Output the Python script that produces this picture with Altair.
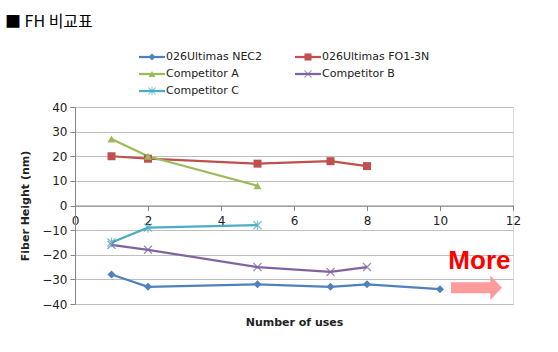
import altair as alt
import pandas as pd

# ---------------- data ----------------
series_names = ["026Ultimas NEC2", "026Ultimas FO1-3N", "Competitor A", "Competitor B", "Competitor C"]
series_colors = ["#4F81BD", "#C0504D", "#9BBB59", "#8064A2", "#4BACC6"]

nec2_x = [1, 2, 5, 7, 8, 10]
nec2_y = [-28, -33, -32, -33, -32, -34]
fo13n_x = [1, 2, 5, 7, 8]
fo13n_y = [20, 19, 17, 18, 16]
compA_x = [1, 2, 5]
compA_y = [27, 20, 8]
compB_x = [1, 2, 5, 7, 8]
compB_y = [-16, -18, -25, -27, -25]
compC_x = [1, 2, 5]
compC_y = [-15, -9, -8]

x_ticks = [0, 2, 4, 6, 8, 10, 12]
y_ticks = [-40, -30, -20, -10, 0, 10, 20, 30, 40]

title_text = "■ FH 비교표"
x_title = "Number of uses"
y_title = "Fiber Height (nm)"
more_text = "More"

# ---------------- tables ----------------
rows = []
for name, xs_, ys_ in [
    (series_names[0], nec2_x, nec2_y),
    (series_names[1], fo13n_x, fo13n_y),
    (series_names[2], compA_x, compA_y),
    (series_names[3], compB_x, compB_y),
    (series_names[4], compC_x, compC_y),
]:
    for xv, yv in zip(xs_, ys_):
        rows.append({"series": name, "uses": xv, "fh": yv})
df = pd.DataFrame(rows)

legend_df = pd.DataFrame({
    "series": series_names,
    "col": [i % 2 for i in range(len(series_names))],
    "row": [i // 2 for i in range(len(series_names))],
})

filled_series = series_names[:3]
stroked_series = series_names[3:]

X_PATH = "M-1,-1L1,1M-1,1L1,-1"
STAR_PATH = "M-1,-1L1,1M-1,1L1,-1M0,-1.2L0,1.2"
shape_scale = alt.Scale(domain=series_names,
                        range=["diamond", "square", "triangle-up", X_PATH, STAR_PATH])
color_scale = alt.Scale(domain=series_names, range=series_colors)

FONT = "DejaVu Sans"
GRID = "#BFBFBF"
AX = "#868686"
PLOT_W, PLOT_H = 438, 197

xs = alt.Scale(domain=[0, 12], nice=False, zero=False)
ys = alt.Scale(domain=[-40, 40], nice=False, zero=False)

x_axis = alt.Axis(
    values=x_ticks, offset=-PLOT_H / 2, grid=False, tickSize=5, tickColor=AX,
    domainColor=AX, labelFont=FONT, labelFontSize=12, labelColor="#222222",
    labelFlush=False, labelOverlap=False, labelPadding=5, title=x_title, titleFont=FONT,
    titleFontSize=11, titleFontWeight="bold", titleColor="#222222", titleY=117,
    titleBaseline="middle")
y_axis = alt.Axis(
    values=y_ticks, grid=True, gridColor=GRID, tickSize=5, tickColor=AX,
    domainColor=AX, labelFont=FONT, labelFontSize=12, labelColor="#222222",
    labelOverlap=False, labelFlush=False, labelPadding=3, title=y_title, titleFont=FONT,
    titleFontSize=11, titleFontWeight="bold", titleColor="#222222", titlePadding=11)


def X(f="uses:Q"):
    return alt.X(f, scale=xs, axis=x_axis)


def Y(f="fh:Q"):
    return alt.Y(f, scale=ys, axis=y_axis)


base = alt.Chart(df)
lines = base.mark_line(strokeWidth=2.25).encode(
    x=X(), y=Y(),
    color=alt.Color("series:N", scale=color_scale, legend=None),
    detail="series:N", order="uses:Q")
pts_filled = base.transform_filter(
    alt.FieldOneOfPredicate(field="series", oneOf=filled_series)
).mark_point(filled=True, opacity=1, size=64).encode(
    x=X(), y=Y(),
    color=alt.Color("series:N", scale=color_scale, legend=None),
    shape=alt.Shape("series:N", scale=shape_scale, legend=None))
pts_stroked = base.transform_filter(
    alt.FieldOneOfPredicate(field="series", oneOf=stroked_series)
).mark_point(filled=False, opacity=0.75, size=64, strokeWidth=1.3).encode(
    x=X(), y=Y(),
    color=alt.Color("series:N", scale=color_scale, legend=None),
    shape=alt.Shape("series:N", scale=shape_scale, legend=None))

# annotations ("More" + arrow)
ann = pd.DataFrame({"uses": [11.08], "fh": [-25.9], "label": [more_text]})
arrow = pd.DataFrame({"uses": [11.0], "fh": [-33.4]})
more = alt.Chart(ann).mark_text(font="Liberation Sans", fontSize=26, fontWeight="bold",
                                color="#FF0000", baseline="alphabetic", align="center").encode(
    x=X(), y=Y(), text="label:N")
ARROW_PATH = "M-1,-0.216L0.54,-0.216L0.54,-0.476L1,0L0.54,0.476L0.54,0.216L-1,0.216Z"
arrow_mark = alt.Chart(arrow).mark_point(shape=ARROW_PATH, size=2601, filled=True,
                                         color="#FF9B9B", opacity=1, strokeWidth=0).encode(
    x=X(), y=Y())

main = alt.layer(lines, pts_filled, pts_stroked, more, arrow_mark)

# custom legend
lx = alt.X("col:Q", scale=alt.Scale(domain=[0, 1], range=[77, 233]), axis=None)
ly = alt.Y("row:Q", scale=alt.Scale(domain=[0, 2], range=[-50, -16]), axis=None)
lbase = alt.Chart(legend_df)
leg_line = lbase.mark_tick(orient="horizontal", size=26, thickness=2.25, opacity=1).encode(
    x=lx, y=ly, color=alt.Color("series:N", scale=color_scale, legend=None))
leg_pf = lbase.transform_filter(
    alt.FieldOneOfPredicate(field="series", oneOf=filled_series)
).mark_point(filled=True, opacity=1, size=50).encode(
    x=lx, y=ly, color=alt.Color("series:N", scale=color_scale, legend=None),
    shape=alt.Shape("series:N", scale=shape_scale, legend=None))
leg_ps = lbase.transform_filter(
    alt.FieldOneOfPredicate(field="series", oneOf=stroked_series)
).mark_point(filled=False, opacity=0.6, size=50, strokeWidth=1.2).encode(
    x=lx, y=ly, color=alt.Color("series:N", scale=color_scale, legend=None),
    shape=alt.Shape("series:N", scale=shape_scale, legend=None))
leg_txt = lbase.mark_text(align="left", baseline="middle", dx=14, font=FONT,
                          fontSize=11, color="#222222").encode(
    x=lx, y=ly, text="series:N")
legend_layer = alt.layer(leg_line, leg_pf, leg_ps, leg_txt)

chart = alt.layer(main, legend_layer).resolve_scale(
    x="independent", y="independent"
).properties(
    width=PLOT_W, height=PLOT_H,
    autosize=alt.AutoSizeParams(type="none"),
    padding={"left": 75, "top": 107, "right": 45, "bottom": 48},
    title=alt.Title(title_text, anchor="start", frame="group", dx=-70, offset=5,
                    baseline="bottom",
                    font="Noto Sans CJK KR", fontSize=16, fontWeight="normal", color="black"),
).configure_view(stroke=GRID).configure(background="white")

chart.save("out.html", embed_options={"renderer": "svg", "actions": False})
